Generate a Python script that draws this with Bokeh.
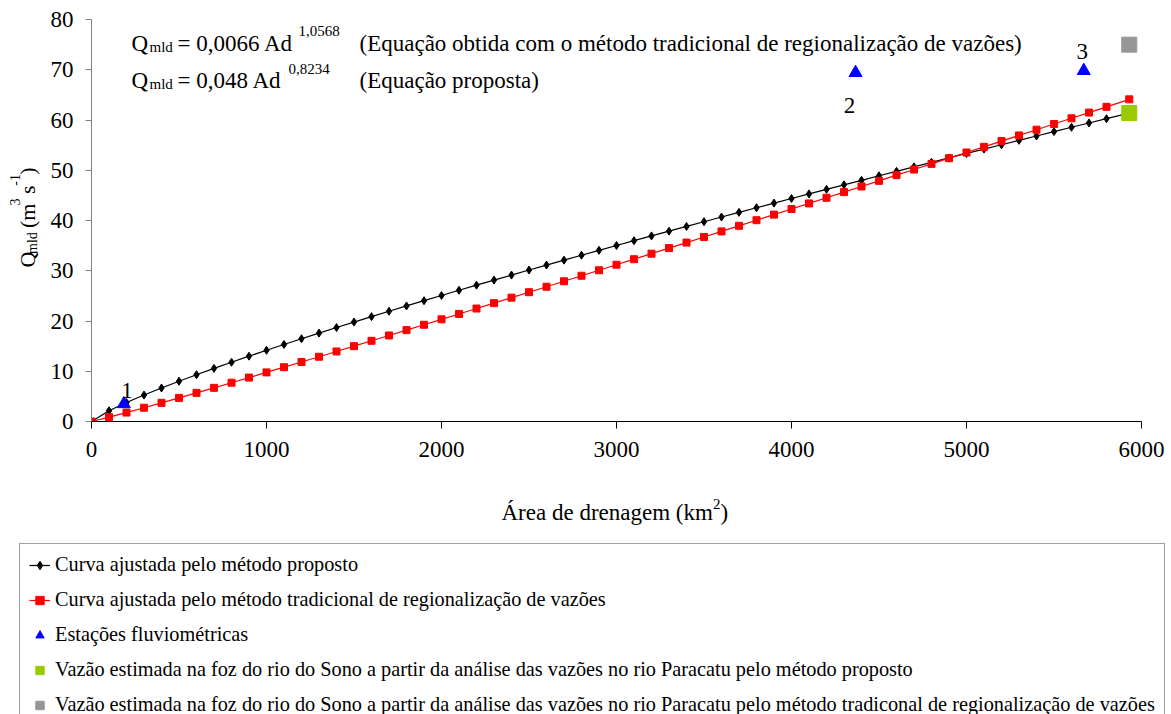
import math
from bokeh.plotting import figure
from bokeh.models import Range1d, Label, Legend, LegendItem, FixedTicker
from bokeh.layouts import column, row
from bokeh.embed import file_html
from bokeh.resources import INLINE

# ---------------- data ----------------
area = [0, 100, 200, 300, 400, 500, 600, 700, 800, 900,
        1000, 1100, 1200, 1300, 1400, 1500, 1600, 1700, 1800, 1900,
        2000, 2100, 2200, 2300, 2400, 2500, 2600, 2700, 2800, 2900,
        3000, 3100, 3200, 3300, 3400, 3500, 3600, 3700, 3800, 3900,
        4000, 4100, 4200, 4300, 4400, 4500, 4600, 4700, 4800, 4900,
        5000, 5100, 5200, 5300, 5400, 5500, 5600, 5700, 5800, 5930]
q_proposto = [0, 2.13, 3.77, 5.26, 6.67, 8.01, 9.31, 10.57, 11.79, 13.00,
              14.17, 15.33, 16.47, 17.59, 18.70, 19.79, 20.87, 21.94, 23.00, 24.04,
              25.08, 26.11, 27.13, 28.14, 29.14, 30.14, 31.13, 32.11, 33.09, 34.06,
              35.02, 35.98, 36.93, 37.88, 38.82, 39.76, 40.69, 41.62, 42.54, 43.46,
              44.38, 45.29, 46.20, 47.10, 48.00, 48.90, 49.79, 50.68, 51.57, 52.45,
              53.33, 54.21, 55.08, 55.95, 56.82, 57.69, 58.55, 59.41, 60.26, 61.37]
q_tradicional = [0, 0.86, 1.78, 2.74, 3.71, 4.70, 5.70, 6.70, 7.72, 8.74,
                 9.77, 10.81, 11.85, 12.89, 13.94, 15.00, 16.06, 17.12, 18.19, 19.25,
                 20.33, 21.40, 22.48, 23.56, 24.65, 25.73, 26.82, 27.91, 29.01, 30.10,
                 31.20, 32.30, 33.40, 34.51, 35.61, 36.72, 37.83, 38.94, 40.06, 41.17,
                 42.29, 43.40, 44.53, 45.65, 46.77, 47.89, 49.02, 50.14, 51.27, 52.40,
                 53.53, 54.66, 55.80, 56.93, 58.07, 59.21, 60.34, 61.48, 62.62, 64.11]
estacoes_area = [185, 4366, 5670]
estacoes_q = [3.5, 69.4, 69.8]
estacoes_nome = ["1", "2", "3"]
foz_area = [5930]
foz_q_proposto = [61.4]
foz_q_tradicional = [75.0]

x_ticks = [0, 1000, 2000, 3000, 4000, 5000, 6000]
y_ticks = [0, 10, 20, 30, 40, 50, 60, 70, 80]

legend_labels = [
    "Curva ajustada pelo método proposto",
    "Curva ajustada pelo método tradicional de regionalização de vazões",
    "Estações fluviométricas",
    "Vazão estimada na foz do rio do Sono a partir da análise das vazões no rio Paracatu pelo método proposto",
    "Vazão estimada na foz do rio do Sono a partir da análise das vazões no rio Paracatu pelo método tradiconal de regionalização de vazões",
]

FONT = "Liberation Serif"

# ---------------- layout geometry (page pixels) ----------------
TOTAL_W, TOTAL_H = 1171, 714
LEFT_W = 42            # strip holding the y-axis title
TOP_H = 470            # height of the upper row
FRAME_L, FRAME_T, FRAME_W, FRAME_H = 91, 19, 1050, 402

main_w = TOTAL_W - LEFT_W
p = figure(width=main_w, height=TOP_H, x_range=Range1d(0, 6000), y_range=Range1d(0, 80),
           output_backend="svg", toolbar_location=None,
           min_border_left=FRAME_L - LEFT_W,
           min_border_right=main_w - (FRAME_L - LEFT_W) - FRAME_W,
           min_border_top=FRAME_T, min_border_bottom=TOP_H - FRAME_T - FRAME_H)
p.outline_line_color = None
p.grid.visible = False
p.background_fill_color = "white"
p.border_fill_color = "white"

xax = p.xaxis[0]
yax = p.yaxis[0]
xax.ticker = FixedTicker(ticks=x_ticks)
yax.ticker = FixedTicker(ticks=y_ticks)
for ax in (xax, yax):
    ax.minor_tick_line_color = None
    ax.major_tick_in = 0
    ax.major_label_text_font = FONT
    ax.major_label_text_font_size = "23px"
    ax.major_label_text_color = "black"
xax.axis_line_color = "black"
xax.major_tick_line_color = "black"
xax.major_tick_out = 7
xax.major_label_standoff = 13
yax.axis_line_color = "#808080"
yax.major_tick_line_color = "#808080"
yax.major_tick_out = 6
yax.major_label_standoff = 12

# ---------------- glyphs ----------------
STY_BL_LINE = dict(line_color="black", line_width=1.2)
STY_BL_PTS = dict(marker="diamond", size=8, color="black")
STY_RD_LINE = dict(line_color="red", line_width=1.2)
STY_RD_PTS = dict(marker="square", size=7, color="red")
STY_TRI = dict(marker="triangle", size=13, color="blue")
STY_GREEN = dict(marker="square", size=15, color="#99cc00")
STY_GRAY = dict(marker="square", size=15, color="#969696")

p.line(area, q_proposto, **STY_BL_LINE)
p.scatter(area, q_proposto, **STY_BL_PTS)
p.line(area, q_tradicional, **STY_RD_LINE)
p.scatter(area, q_tradicional, **STY_RD_PTS)
p.scatter(estacoes_area, estacoes_q, **STY_TRI)
p.scatter(foz_area, foz_q_proposto, **STY_GREEN)
p.scatter(foz_area, foz_q_tradicional, **STY_GRAY)


def dx(px):
    return (px - FRAME_L) * 6000 / FRAME_W


def dy(py):
    return (FRAME_T + FRAME_H - py) * 80 / FRAME_H


def lab(fig, text, x, y, size, angle=0, align="left", baseline="alphabetic"):
    fig.add_layout(Label(x=x, y=y, text=text, text_font=FONT,
                         text_font_size=f"{size}px", text_color="black",
                         angle=angle, text_align=align, text_baseline=baseline))


def plab(text, px, py, size, align="left"):
    lab(p, text, dx(px), dy(py), size, align=align)


# station numbers
plab(estacoes_nome[0], 126.5, 390, 23, align="center")
plab(estacoes_nome[1], 849, 105, 23, align="center")
plab(estacoes_nome[2], 1081.7, 51, 23, align="center")

# equations
plab("Q", 131, 43.3, 23)
plab("mld", 149, 46.7, 15)
plab("= 0,0066 Ad", 177, 43.3, 23)
plab("1,0568", 298, 30.5, 15)
plab("(Equação obtida com o método tradicional de regionalização de vazões)", 359, 43.3, 23)
plab("Q", 131, 80, 23)
plab("mld", 149, 83.4, 15)
plab("= 0,048 Ad", 177, 80, 23)
plab("0,8234", 288, 68.3, 15)
plab("(Equação proposta)", 359, 80, 23)

# ---------------- left strip: y-axis title ----------------
left = figure(width=LEFT_W, height=TOP_H, x_range=Range1d(0, LEFT_W), y_range=Range1d(TOP_H, 0),
              output_backend="svg", toolbar_location=None, min_border=0,
              x_axis_type=None, y_axis_type=None)
left.outline_line_color = None
left.grid.visible = False
A = math.pi / 2
YSHIFT = 18
for txt, ax_, ay_, sz in [("Q", 14.4, 272.0, 22),
                          ("mld", 24.5, 256.1, 14),
                          ("(m", 14.4, 225.8, 22),
                          ("3", 9.5, 199.4, 14),
                          ("s", 14.4, 185.9, 22),
                          ("-1", 9.5, 176.3, 14),
                          (")", 14.4, 163.6, 22)]:
    lab(left, txt, ax_, ay_ + YSHIFT, sz, angle=A, align="left", baseline="top")

# ---------------- bottom strip: x-axis title + legend ----------------
BOT_H = TOTAL_H - TOP_H
bot = figure(width=TOTAL_W, height=BOT_H, x_range=Range1d(0, TOTAL_W),
             y_range=Range1d(TOTAL_H, TOP_H),
             output_backend="svg", toolbar_location=None, min_border=0,
             x_axis_type=None, y_axis_type=None)
bot.outline_line_color = None
bot.grid.visible = False

lab(bot, "Área de drenagem (km", 501, 512, 23)
lab(bot, "2", 712.4, 503, 15)
lab(bot, ")", 720, 512, 23)

# legend swatches: the same series, drawn in this strip where they fall outside
# its visible range, so only their legend glyphs show
g_bl_line = bot.line(area, q_proposto, **STY_BL_LINE)
g_bl_pts = bot.scatter(area, q_proposto, **STY_BL_PTS)
g_rd_line = bot.line(area, q_tradicional, **STY_RD_LINE)
g_rd_pts = bot.scatter(area, q_tradicional, **STY_RD_PTS)
g_tri = bot.scatter(estacoes_area, estacoes_q, **STY_TRI)
g_green = bot.scatter(foz_area, foz_q_proposto, **STY_GREEN)
g_gray = bot.scatter(foz_area, foz_q_tradicional, **STY_GRAY)

items = [
    LegendItem(label=legend_labels[0], renderers=[g_bl_line, g_bl_pts]),
    LegendItem(label=legend_labels[1], renderers=[g_rd_line, g_rd_pts]),
    LegendItem(label=legend_labels[2], renderers=[g_tri]),
    LegendItem(label=legend_labels[3], renderers=[g_green]),
    LegendItem(label=legend_labels[4], renderers=[g_gray]),
]
LEG_TOP = 541 - TOP_H
LEG_H = 181
legend = Legend(items=items, location=(19, BOT_H - LEG_TOP - LEG_H - 4), orientation="vertical",
                border_line_color="#404040", border_line_width=1,
                background_fill_color="white", background_fill_alpha=1,
                padding=9, spacing=12, margin=0,
                glyph_width=21, glyph_height=22, label_height=20,
                label_standoff=5, label_text_font=FONT,
                label_text_font_size="20.3px", label_text_color="black")
bot.add_layout(legend)

layout = column(row(left, p), bot)
open("out.html", "w").write(file_html(layout, INLINE))
